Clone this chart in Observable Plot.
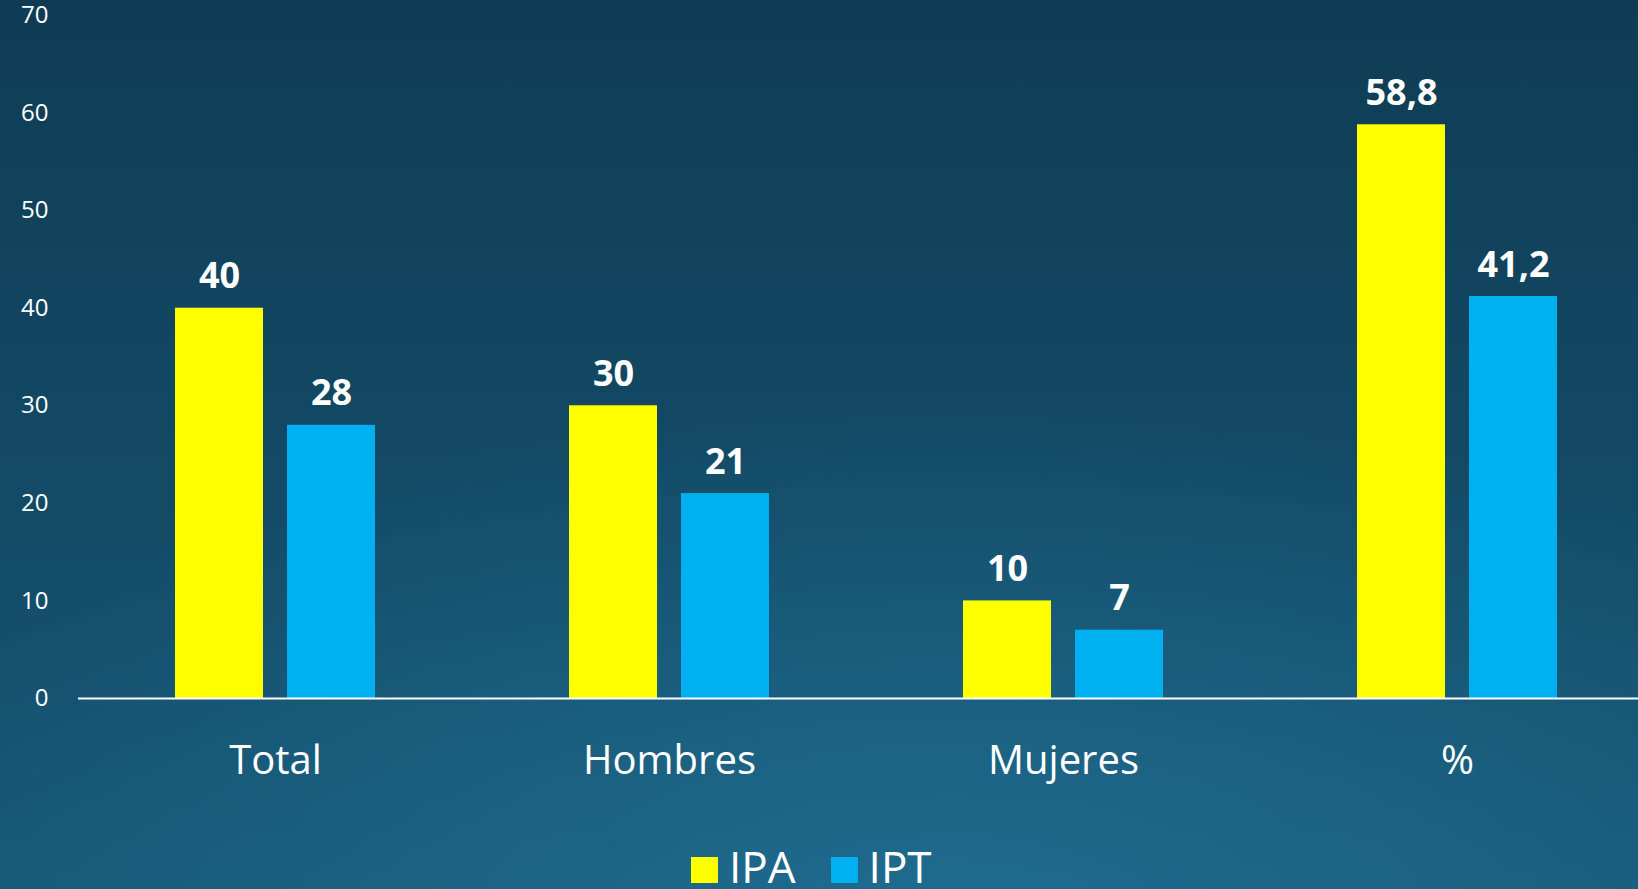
<!DOCTYPE html>
<html>
<head>
<meta charset="utf-8">
<script src="https://cdn.jsdelivr.net/npm/d3@7"></script>
<script src="https://cdn.jsdelivr.net/npm/@observablehq/plot@0.6"></script>
<style>
  html, body { margin: 0; padding: 0; }
  body {
    width: 1638px; height: 889px; overflow: hidden;
    background:
      radial-gradient(ellipse 70% 60% at 58% 105%, rgba(32,112,148,0.85) 0%, rgba(32,112,148,0) 100%),
      linear-gradient(180deg, #0f3c54 0%, #134a66 55%, #175675 100%);
    font-family: "Open Sans", sans-serif;
  }
  #wrap { position: relative; width: 1638px; height: 889px; overflow: hidden; }
  #chart svg { display: block; background: transparent; max-width: none !important; height: 820px !important; }
  #legend {
    position: absolute; left: 691px; top: 844px;
    display: flex; font-size: 44px; line-height: 44px; color: #ffffff;
    white-space: nowrap;
  }
  #legend .item { margin-right: 35px; }
  #legend .sw { display: inline-block; width: 27px; height: 26px; margin-right: 11px; vertical-align: baseline; }
</style>
</head>
<body>
<div id="wrap">
  <div id="chart"></div>
  <div id="legend"></div>
</div>
<script>
const categories = ["Total", "Hombres", "Mujeres", "%"];
const series = ["IPA", "IPT"];
const ipaValues = [40, 30, 10, 58.8];
const iptValues = [28, 21, 7, 41.2];
const seriesColors = ["#FFFF00", "#00B0F0"];
const yTicks = [0, 10, 20, 30, 40, 50, 60, 70];

const data = [];
categories.forEach((c, i) => {
  data.push({category: c, series: series[0], value: ipaValues[i]});
  data.push({category: c, series: series[1], value: iptValues[i]});
});
const fmt = v => String(v).replace(".", ",");

const chart = Plot.plot({
  width: 1654,
  height: 820,
  marginLeft: 77,
  marginRight: 0,
  marginTop: 15,
  marginBottom: 122,
  style: {background: "transparent", color: "#ffffff", fontFamily: "Open Sans, sans-serif", maxWidth: "none"},
  fx: {domain: categories, padding: 0, label: null},
  x: {domain: series, paddingInner: 0.2124, paddingOuter: 0.85, axis: null},
  y: {domain: [0, 70], label: null},
  color: {domain: series, range: seriesColors},
  marks: [
    Plot.barY(data, {fx: "category", x: "series", y: "value", fill: "series"}),
    Plot.text(data, {fx: "category", x: "series", y: "value", text: d => fmt(d.value),
      lineAnchor: "bottom", dy: -20, fill: "#ffffff", fontSize: 36, fontWeight: "bold"}),
    Plot.axisY({ticks: yTicks, tickSize: 0, tickPadding: 30, fontSize: 24, label: null, textAnchor: "end"}),
    Plot.axisFx({anchor: "bottom", tickSize: 0, tickPadding: 47, fontSize: 40, label: null}),
    Plot.ruleY([0], {stroke: "#ffffff", strokeWidth: 2})
  ]
});
document.getElementById("chart").appendChild(chart);

const legend = document.getElementById("legend");
series.forEach((s, i) => {
  const item = document.createElement("span");
  item.className = "item";
  const sw = document.createElement("span");
  sw.className = "sw";
  sw.style.background = seriesColors[i];
  item.appendChild(sw);
  item.appendChild(document.createTextNode(s));
  legend.appendChild(item);
});
</script>
</body>
</html>
